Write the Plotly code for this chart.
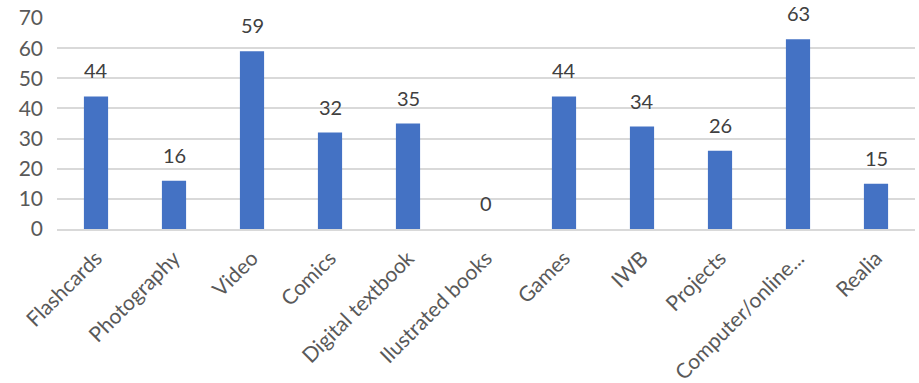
import plotly.graph_objects as go

categories = ["Flashcards", "Photography", "Video", "Comics", "Digital textbook",
              "Ilustrated books", "Games", "IWB", "Projects", "Computer/online...", "Realia"]
values = [44, 16, 59, 32, 35, 0, 44, 34, 26, 63, 15]
y_ticks = [0, 10, 20, 30, 40, 50, 60, 70]

FONT = "Lato, Carlito, Calibri, sans-serif"

fig = go.Figure(go.Bar(
    x=categories, y=values,
    marker=dict(color="#4472C4", line=dict(width=0)),
    hoverinfo="x+y",
))

for c, v in zip(categories, values):
    fig.add_annotation(x=c, y=v, text=str(v), showarrow=False,
                       yanchor="bottom", yshift=12,
                       font=dict(family=FONT, size=20, color="#404040"))

fig.update_layout(
    width=919, height=383,
    margin=dict(l=57, r=4, t=18, b=154),
    paper_bgcolor="white", plot_bgcolor="white",
    bargap=0.69,
    showlegend=False,
    font=dict(family=FONT, size=20, color="#595959"),
)
fig.update_xaxes(
    automargin=False,
    tickangle=-45, showgrid=False, zeroline=False,
    showline=True, linecolor="#D9D9D9", linewidth=1.5,
    tickfont=dict(family=FONT, size=21, color="#595959"),
    ticks="", ticklabelstandoff=7,
)
fig.update_yaxes(
    automargin=False,
    range=[0, 70.01], tickvals=y_ticks, showgrid=True, gridcolor="#D9D9D9", gridwidth=1.5,
    zeroline=False, showline=False, ticks="", ticklabelstandoff=13,
    tickfont=dict(family=FONT, size=21, color="#595959"),
)

fig.write_html("out.html", config={"displayModeBar": False},
               post_script="document.body.style.margin='0';")
